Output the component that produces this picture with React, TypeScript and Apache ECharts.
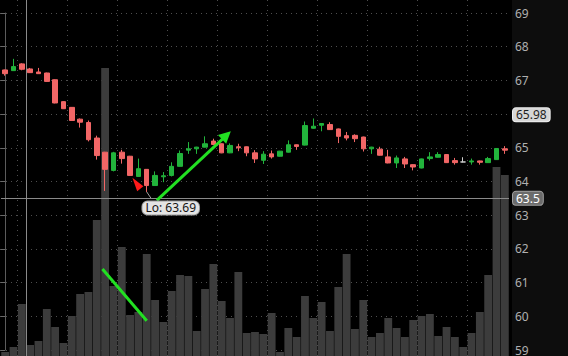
import { useEffect, useRef } from 'react';
import * as echarts from 'echarts';

// [open, close, low, high]
const candles: number[][] = [
  [67.31, 67.20, 67.14, 67.32],
  [67.29, 67.41, 67.28, 67.64],
  [67.49, 67.33, 67.30, 67.51],
  [67.34, 67.23, 67.22, 67.37],
  [67.25, 67.20, 67.19, 67.37],
  [67.22, 66.97, 66.96, 67.23],
  [67.02, 66.33, 66.32, 67.03],
  [66.37, 66.16, 66.15, 66.38],
  [66.20, 65.81, 65.80, 66.21],
  [65.85, 65.76, 65.60, 65.87],
  [65.75, 65.24, 65.19, 65.81],
  [65.29, 64.77, 64.65, 65.36],
  [64.87, 64.36, 63.72, 64.88],
  [64.33, 64.85, 64.30, 64.88],
  [64.87, 64.68, 64.53, 64.94],
  [64.75, 64.18, 64.17, 64.76],
  [64.15, 64.38, 64.14, 64.68],
  [64.36, 63.88, 63.69, 64.37],
  [63.88, 64.18, 63.87, 64.30],
  [64.14, 64.17, 63.98, 64.28],
  [64.18, 64.45, 64.15, 64.57],
  [64.45, 64.83, 64.44, 64.92],
  [64.93, 64.97, 64.82, 65.17],
  [64.97, 65.02, 64.82, 65.03],
  [65.02, 65.12, 65.01, 65.34],
  [65.20, 65.10, 65.09, 65.27],
  [65.12, 64.85, 64.84, 65.13],
  [64.85, 65.07, 64.84, 65.13],
  [65.03, 65.00, 64.90, 65.12],
  [65.03, 64.85, 64.75, 65.04],
  [64.85, 64.67, 64.55, 64.93],
  [64.63, 64.81, 64.52, 64.90],
  [64.82, 64.73, 64.68, 64.92],
  [64.75, 64.90, 64.74, 64.91],
  [64.87, 65.09, 64.86, 65.22],
  [65.09, 65.04, 64.94, 65.10],
  [65.08, 65.66, 65.07, 65.78],
  [65.58, 65.64, 65.57, 65.87],
  [65.67, 65.72, 65.49, 65.73],
  [65.69, 65.54, 65.53, 65.76],
  [65.56, 65.34, 65.14, 65.57],
  [65.36, 65.29, 65.22, 65.47],
  [65.37, 65.27, 65.17, 65.40],
  [65.32, 64.97, 64.89, 65.33],
  [64.97, 65.02, 64.82, 65.03],
  [64.96, 64.78, 64.77, 65.03],
  [64.73, 64.55, 64.54, 64.94],
  [64.55, 64.70, 64.40, 64.77],
  [64.67, 64.52, 64.40, 64.73],
  [64.50, 64.43, 64.33, 64.51],
  [64.40, 64.67, 64.39, 64.68],
  [64.68, 64.73, 64.62, 64.87],
  [64.72, 64.80, 64.71, 64.87],
  [64.80, 64.56, 64.55, 64.81],
  [64.62, 64.56, 64.50, 64.70],
  [64.58, 64.58, 64.57, 64.72],
  [64.58, 64.61, 64.50, 64.68],
  [64.61, 64.57, 64.50, 64.62],
  [64.56, 64.68, 64.55, 64.73],
  [64.65, 64.98, 64.64, 64.99],
  [64.97, 64.93, 64.82, 65.05],
];

const volume: number[] = [
  4, 9, 52, 11, 15, 47, 29, 13, 40, 62,
  64, 136, 288, 70, 109, 41, 44, 102, 56, 34,
  65, 81, 80, 25, 67, 92, 55, 38, 84, 23,
  24, 22, 43, 4, 28, 19, 60, 38, 54, 25,
  69, 102, 27, 56, 19, 23, 38, 28, 19, 36,
  40, 42, 20, 29, 19, 9, 23, 44, 81, 189,
  181,
];

const categories: string[] = candles.map((_, i) => String(i + 1));

const CROSS_PRICE = 63.5;
const REF_PRICE = 65.98;
const LOW_INDEX = 17;
const LOW_PRICE = 63.69;
// tick label covered by the 65.98 price bubble
const COVERED_TICK = 66;

// vertical separators, as bar-boundary positions on the bar-index axis
const sessionBreak: number[] = [2.5];
const timeGrid: number[] = [1.5, 7.5, 13.5, 19.5, 25.5, 31.5, 37.5, 43.5, 49.5, 55.5];

// annotation drawings, in (bar index, price) / (bar index, volume) space
const arrowUp: number[][] = [[18.21, 63.44], [26.57, 65.37]];
const volTrend: number[][] = [[11.68, 87], [17.0, 35.3]];
const loLeader: number[][] = [[17.0, 63.69], [17.55, 63.49]];
const redMarker: number[][] = [[15.28, 64.11], [16.6, 63.86], [15.85, 63.71]];

const GREEN = '#22b43c';
const RED = '#f26666';
const LINE_GREEN = '#22e022';
const FONT = "'Noto Sans', sans-serif";

export default function App() {
  const ref = useRef<HTMLDivElement>(null);
  useEffect(() => {
    document.body.style.margin = '0';
    const chart = echarts.init(ref.current!, undefined, { renderer: 'svg' });
    const bubble = {
      borderRadius: 3, padding: [1, 3, 0, 3], fontSize: 12, fontFamily: FONT,
    };
    const option: any = {
      animation: false,
      backgroundColor: '#000000',
      textStyle: { fontFamily: FONT },
      graphic: [
        {
          type: 'rect', z: -100, silent: true,
          shape: { x: 512, y: 0, width: 56, height: 356 },
          style: { fill: '#0d0d0d' },
        },
      ],
      grid: [
        { left: 1, right: 59, top: 13, bottom: 5 },
        { left: 1, right: 59, top: 0, bottom: 0 },
      ],
      xAxis: [
        { type: 'category', gridIndex: 0, data: categories, boundaryGap: true, show: false },
        { type: 'category', gridIndex: 1, data: categories, boundaryGap: true, show: false },
        { type: 'value', gridIndex: 0, min: -0.5, max: 60.5, show: false },
        { type: 'value', gridIndex: 1, min: -0.5, max: 60.5, show: false },
      ],
      yAxis: [
        {
          type: 'value', gridIndex: 0, position: 'right', offset: 3, min: 59, max: 69, interval: 1,
          axisLine: { show: true, lineStyle: { color: '#5c5c5c' } },
          axisTick: { show: true, inside: true, length: 5, lineStyle: { color: '#6a6a6a' } },
          axisLabel: {
            color: '#b0b0b0', fontSize: 12, margin: 3, fontFamily: FONT,
            formatter: (v: number) => (v === COVERED_TICK ? '' : String(v)),
          },
          splitLine: { show: true, lineStyle: { color: '#4e4e4e', type: [1, 4], width: 1 } },
        },
        { type: 'value', gridIndex: 1, min: 0, max: 356, show: false },
      ],
      series: [
        {
          type: 'custom', name: 'grid', xAxisIndex: 3, yAxisIndex: 1, silent: true, z: 0,
          data: [],
          renderItem: () => ({ type: 'group', children: [] }),
          markLine: {
            silent: true, symbol: ['none', 'none'], label: { show: false },
            data: [
              ...timeGrid.map((x) => ({ xAxis: x, lineStyle: { color: '#4e4e4e', type: [1, 4], width: 1 } })),
              ...sessionBreak.map((x) => ({ xAxis: x, lineStyle: { color: '#8a8a8a', type: 'solid', width: 1 } })),
            ],
          },
        },
        {
          type: 'bar', name: 'Volume', xAxisIndex: 1, yAxisIndex: 1, data: volume,
          barCategoryGap: '6%', itemStyle: { color: '#3c3c3c' }, silent: true, z: 1,
        },
        {
          type: 'candlestick', name: 'Price', xAxisIndex: 0, yAxisIndex: 0, data: candles,
          barWidth: 5, clip: false, z: 3,
          itemStyle: {
            color: GREEN, color0: RED, borderColor: GREEN, borderColor0: RED,
            borderColorDoji: '#d0d0d0', borderWidth: 1,
          },
          markLine: {
            silent: true, symbol: ['none', 'none'],
            data: [
              {
                yAxis: CROSS_PRICE,
                lineStyle: { color: '#8a8a8a', width: 1, type: 'solid' },
                label: {
                  show: true, position: 'end', distance: 4, formatter: String(CROSS_PRICE),
                  color: '#ffffff', backgroundColor: '#6b6b6b', borderColor: '#a0a0a0', borderWidth: 1,
                  ...bubble,
                },
              },
              {
                yAxis: REF_PRICE,
                lineStyle: { color: 'rgba(0,0,0,0)', width: 1 },
                label: {
                  show: true, position: 'end', distance: 4, formatter: String(REF_PRICE),
                  color: '#1e1e1e', backgroundColor: '#d6d6d6', borderColor: '#eeeeee', borderWidth: 1,
                  ...bubble,
                },
              },
            ],
          },
          markPoint: {
            silent: true,
            data: [
              {
                coord: [LOW_INDEX, LOW_PRICE], symbol: 'circle', symbolSize: 1,
                itemStyle: { color: 'rgba(0,0,0,0)' },
                label: {
                  show: true, formatter: 'Lo: ' + LOW_PRICE.toFixed(2), offset: [24, 16],
                  color: '#151515', backgroundColor: '#e4e4e4', borderColor: '#9a9a9a', borderWidth: 1,
                  borderRadius: 5, padding: [1, 3, 0, 3], fontSize: 12, fontFamily: FONT,
                },
              },
            ],
          },
        },
        {
          type: 'lines', coordinateSystem: 'cartesian2d', xAxisIndex: 2, yAxisIndex: 0,
          symbol: ['none', 'triangle'], symbolSize: 12, silent: true, z: 5,
          lineStyle: { color: LINE_GREEN, width: 3, opacity: 1, curveness: 0 },
          data: [{ coords: arrowUp }],
        },
        {
          type: 'lines', coordinateSystem: 'cartesian2d', xAxisIndex: 3, yAxisIndex: 1,
          symbol: ['none', 'none'], silent: true, z: 5,
          lineStyle: { color: LINE_GREEN, width: 3, opacity: 1, curveness: 0 },
          data: [{ coords: volTrend }],
        },
        {
          type: 'lines', coordinateSystem: 'cartesian2d', xAxisIndex: 2, yAxisIndex: 0,
          symbol: ['none', 'none'], silent: true, z: 4,
          lineStyle: { color: '#a0a0a0', width: 1, opacity: 1, curveness: 0 },
          data: [{ coords: loLeader }],
        },
        {
          type: 'custom', xAxisIndex: 2, yAxisIndex: 0, silent: true, z: 5,
          data: [[0, 0]],
          renderItem: (_p: any, api: any) => ({
            type: 'polygon',
            shape: { points: redMarker.map((pt) => api.coord(pt)) },
            style: { fill: '#ff1a1a' },
          }),
        },
      ],
    };
    chart.setOption(option);
    return () => chart.dispose();
  }, []);
  return <div ref={ref} style={{ width: 568, height: 356 }} />;
}
